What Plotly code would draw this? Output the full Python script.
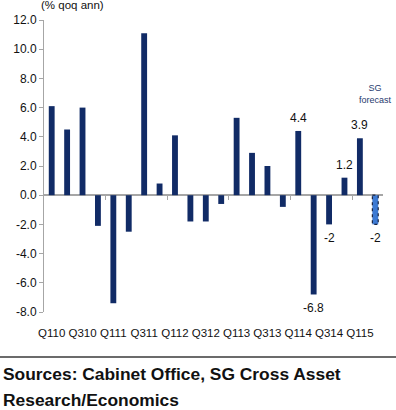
import plotly.graph_objects as go

categories = ["Q110", "Q210", "Q310", "Q410", "Q111", "Q211", "Q311", "Q411",
              "Q112", "Q212", "Q312", "Q412", "Q113", "Q213", "Q313", "Q413",
              "Q114", "Q214", "Q314", "Q414", "Q115", "Q215"]
values = [6.1, 4.5, 6.0, -2.1, -7.4, -2.5, 11.1, 0.8,
          4.1, -1.8, -1.8, -0.6, 5.3, 2.9, 2.0, -0.8,
          4.4, -6.8, -2.0, 1.2, 3.9, -2.0]
is_forecast = [False] * 21 + [True]
labelled = {"Q114": "4.4", "Q214": "-6.8", "Q314": "-2", "Q414": "1.2", "Q115": "3.9", "Q215": "-2"}
tick_labels = categories[::2]
year_boundaries = [3.5, 7.5, 11.5, 15.5, 19.5]
y_ticks = [12, 10, 8, 6, 4, 2, 0, -2, -4, -6, -8]

NAVY = "#112b66"
FC = "#3d7ad3"
GREY = "#a6a6a6"
FONT = "Liberation Sans, Arial, sans-serif"
BAR_W = 0.38

fig = go.Figure()
fig.add_trace(go.Bar(
    x=categories, y=values,
    marker=dict(color=[FC if f else NAVY for f in is_forecast], line=dict(width=0)),
    width=BAR_W, showlegend=False, hoverinfo="x+y",
))

# invisible trace for tick axis at y=0
fig.add_trace(go.Scatter(x=[0], y=[0], xaxis="x2", mode="markers",
                         marker=dict(opacity=0), showlegend=False, hoverinfo="skip"))

# dotted outline around the forecast bar
for i, (c, v, f) in enumerate(zip(categories, values, is_forecast)):
    if f:
        fig.add_shape(type="rect", xref="x2", yref="y", x0=i - BAR_W / 2, x1=i + BAR_W / 2,
                      y0=0, y1=v, line=dict(color="#1a2340", width=1.2, dash="dot"))

for c, v in zip(categories, values):
    if c in labelled:
        fig.add_annotation(x=c, y=v, text=labelled[c], showarrow=False,
                           yshift=13 if v > 0 else -14,
                           font=dict(family=FONT, size=12, color="#111"))

fig.add_annotation(x=categories[-1], y=6.95, text="SG<br>forecast", showarrow=False,
                   font=dict(family=FONT, size=9, color="#1f3a6e"), align="center")

fig.add_annotation(xref="paper", yref="paper", x=0.084, y=1.05,
                   text="(% qoq ann)", showarrow=False, xanchor="center", yanchor="middle",
                   font=dict(family=FONT, size=11.5, color="#111"))

fig.add_annotation(xref="paper", yref="paper", x=-0.127, y=-0.214, xanchor="left", yanchor="middle",
                   text="<b>Sources: Cabinet Office, SG Cross Asset</b>",
                   showarrow=False, align="left",
                   font=dict(family=FONT, size=17.4, color="#111"))
fig.add_annotation(xref="paper", yref="paper", x=-0.127, y=-0.301, xanchor="left", yanchor="middle",
                   text="<b>Research/Economics</b>",
                   showarrow=False, align="left",
                   font=dict(family=FONT, size=17.4, color="#111"))

fig.add_shape(type="line", xref="paper", yref="paper", x0=-0.15, x1=1.05,
              y0=-0.154, y1=-0.154, line=dict(color="#6b6b6b", width=2))

fig.update_layout(
    width=396, height=410,
    margin=dict(l=44, r=13, t=20, b=98),
    plot_bgcolor="white", paper_bgcolor="white",
    font=dict(family=FONT, size=12, color="#111"),
    xaxis=dict(type="category", range=[-0.5, 21.5], tickmode="array",
               tickvals=tick_labels, ticktext=tick_labels, showline=False,
               showgrid=False, ticks="outside", ticklen=10, tickcolor="rgba(0,0,0,0)",
               tickangle=0, tickfont=dict(size=11.5),
               automargin=False, fixedrange=True),
    xaxis2=dict(overlaying="x", anchor="free", position=0.4, range=[-0.5, 21.5],
                tickvals=year_boundaries, ticks="outside", ticklen=4, tickcolor=GREY,
                showticklabels=False, showgrid=False, showline=False, zeroline=False,
                side="bottom", automargin=False),
    yaxis=dict(range=[-8, 12], tickvals=y_ticks, ticktext=[f"{t:.1f}" for t in y_ticks],
               showline=True, linecolor=GREY, linewidth=1, ticks="outside", ticklen=4,
               tickcolor=GREY, showgrid=False, zeroline=True, zerolinecolor=GREY,
               zerolinewidth=1.5, tickfont=dict(size=12), automargin=False),
)

fig.write_html("out.html", config={"displayModeBar": False},
               post_script="document.body.style.margin='0';document.body.style.overflow='hidden';")
